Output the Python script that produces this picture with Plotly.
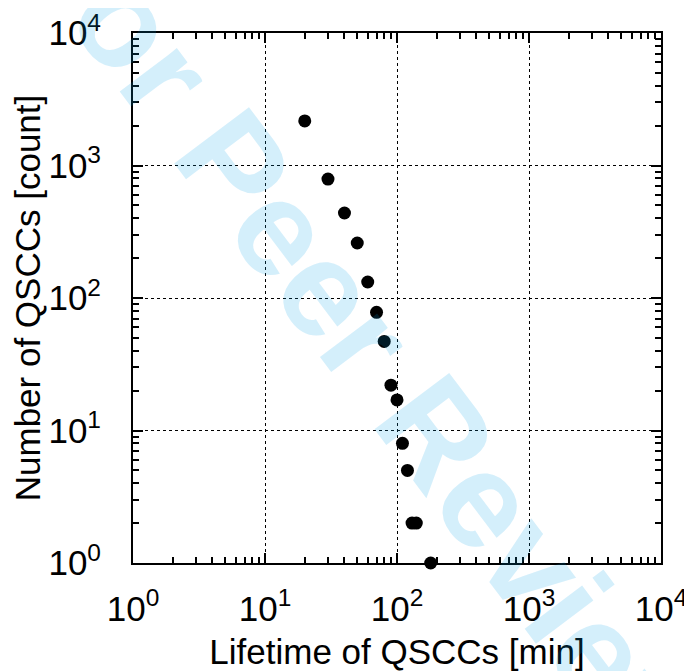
import plotly.graph_objects as go

# Lifetime histogram of QSCCs
lifetime_min = [20, 30, 40, 50, 60, 70, 80, 90, 100, 110, 120, 130, 140, 180]
count = [2170, 790, 438, 260, 132, 78, 47, 22, 17, 8, 5, 2, 2, 1]

tick_vals = [1, 10, 100, 1000, 10000]
tick_text = ["10<sup>0</sup>", "10<sup>1</sup>", "10<sup>2</sup>", "10<sup>3</sup>", "10<sup>4</sup>"]

font = "Liberation Sans, Arial, Helvetica, sans-serif"

fig = go.Figure()
fig.add_trace(go.Scatter(
    x=lifetime_min,
    y=count,
    mode="markers",
    marker=dict(color="black", size=13, line=dict(width=0)),
    showlegend=False,
    cliponaxis=False,
))

axis_style = dict(
    type="log",
    range=[0, 4],
    tickvals=tick_vals,
    ticktext=tick_text,
    showline=True,
    linecolor="black",
    linewidth=2,
    mirror="allticks",
    ticks="inside",
    ticklen=10,
    tickwidth=1.5,
    tickcolor="black",
    showgrid=True,
    gridcolor="black",
    griddash="dot",
    gridwidth=1,
    zeroline=False,
    automargin=False,
    tickfont=dict(family=font, size=35, color="black"),
    minor=dict(ticks="inside", ticklen=6, tickwidth=1.5, tickcolor="black",
               dtick="D1", showgrid=False),
)

fig.update_xaxes(
    **axis_style,
    ticklabelstandoff=14,
    title=dict(text="Lifetime of QSCCs [min]", standoff=14,
               font=dict(family=font, size=35, color="black")),
)
fig.update_yaxes(
    **axis_style,
    ticklabelstandoff=23,
    title=dict(text="Number of QSCCs [count]", standoff=0,
               font=dict(family=font, size=35, color="black")),
)

# watermark
fig.add_annotation(
    text="For Peer Review",
    xref="paper", yref="paper",
    x=0.45, y=0.41,
    showarrow=False,
    textangle=53,
    font=dict(family="Liberation Sans, Arial, sans-serif", size=136,
              color="rgba(0,160,230,0.17)", weight="bold"),
)

# page body has an 8px margin, so the figure is a bit smaller than the window
fig.update_layout(
    width=684,
    height=663,
    margin=dict(l=125, r=31, t=25, b=108),
    plot_bgcolor="white",
    paper_bgcolor="white",
)

fig.write_html("out.html")
